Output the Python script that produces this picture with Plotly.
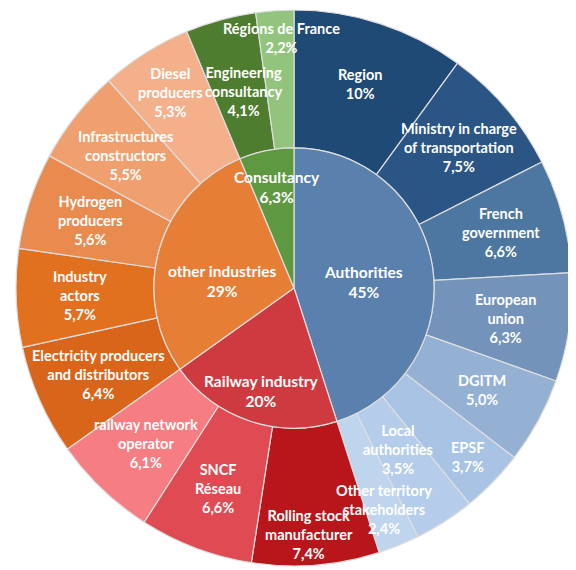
import math
import plotly.graph_objects as go

# ---- data ----
categories = ["Authorities", "Railway industry", "other industries", "Consultancy"]
category_pct_text = ["45%", "20%", "29%", "6,3%"]

outer_labels = [
    "Region", "Ministry in charge<br>of transportation", "French<br>government",
    "European<br>union", "DGITM", "EPSF", "Local<br>authorities",
    "Other territory<br>stakeholders",
    "Rolling stock<br>manufacturer", "SNCF<br>Réseau", "railway network<br>operator",
    "Electricity producers<br>and distributors", "Industry<br>actors",
    "Hydrogen<br>producers", "Infrastructures<br>constructors", "Diesel<br>producers",
    "Engineering<br>consultancy", "Régions de France",
]
outer_parents = (["Authorities"] * 8 + ["Railway industry"] * 3
                 + ["other industries"] * 5 + ["Consultancy"] * 2)
outer_values = [10, 7.5, 6.6, 6.3, 5.0, 3.7, 3.5, 2.4,
                7.4, 6.6, 6.1,
                6.4, 5.7, 5.6, 5.5, 5.3,
                4.1, 2.2]

# ---- styles ----
category_colors = ["#5a80ad", "#cf3a40", "#e67e36", "#5e9840"]
outer_colors = [
    "#1f4a76", "#2a5585", "#4d76a0", "#7393bb", "#94b0d3", "#a8c3e3", "#b5cdea", "#bfd5ee",
    "#b8161a", "#e04a52", "#f67d82",
    "#d9651a", "#e1711f", "#e98b4e", "#efa06e", "#f3b08a",
    "#4e7d2f", "#93c47d",
]
# label radius (fraction of outer radius) and angle offset overrides
label_overrides = {
    "EPSF": (0.87, 0), "Local<br>authorities": (0.69, 0),
    "Other territory<br>stakeholders": (0.86, 0), "Rolling stock<br>manufacturer": (0.89, 1),
    "Diesel<br>producers": (0.83, 0), "Engineering<br>consultancy": (0.73, 1),
    "Régions de France": (0.90, 1), "Ministry in charge<br>of transportation": (0.78, 0),
}
inner_overrides = {"Authorities": (0.25, 4), "Railway industry": (0.39, -1),
                   "other industries": (0.26, -10), "Consultancy": (0.37, 2)}


def fmt_pct(v):
    if v >= 10:
        return f"{v:.0f}%"
    return f"{v:.1f}".replace(".", ",") + "%"


inner_values = [round(sum(v for v, p in zip(outer_values, outer_parents) if p == c), 2)
                for c in categories]

HOLE = 0.504
line = dict(color="#dedede", width=1.2)

fig = go.Figure()
fig.add_trace(go.Pie(
    labels=outer_labels, values=outer_values, sort=False, direction="clockwise",
    rotation=0, hole=HOLE, textinfo="none", hoverinfo="label+value",
    marker=dict(colors=outer_colors, line=line), showlegend=False,
    domain=dict(x=[0, 1], y=[0, 1]),
))
h = HOLE / 2
fig.add_trace(go.Pie(
    labels=categories, values=inner_values, sort=False, direction="clockwise",
    rotation=0, textinfo="none", hoverinfo="label+value",
    marker=dict(colors=category_colors, line=line), showlegend=False,
    domain=dict(x=[0.5 - h, 0.5 + h], y=[0.5 - h, 0.5 + h]),
))

annotations = []


def add_labels(labels, values, texts, overrides, default_rf, size):
    total = sum(values)
    cum = 0
    for lab, v, t in zip(labels, values, texts):
        mid = (cum + v / 2) / total * 360
        cum += v
        rf, dth = overrides.get(lab, (default_rf, 0))
        th = math.radians(mid + dth)
        annotations.append(dict(
            x=0.5 + 0.5 * rf * math.sin(th), y=0.5 + 0.5 * rf * math.cos(th),
            xref="paper", yref="paper", xanchor="center", yanchor="middle",
            showarrow=False, text=f"{lab}<br>{t}", align="center",
            font=dict(family="Lato", size=size, color="white", weight="bold"),
        ))


add_labels(outer_labels, outer_values, [fmt_pct(v) for v in outer_values],
           label_overrides, 0.77, 14.5)
add_labels(categories, inner_values, category_pct_text, inner_overrides, 0.3, 15.5)

fig.update_layout(
    width=568, height=562,
    margin=dict(l=8, r=4, t=2, b=4),
    paper_bgcolor="white", plot_bgcolor="white",
    annotations=annotations,
)
fig.write_html("out.html")
